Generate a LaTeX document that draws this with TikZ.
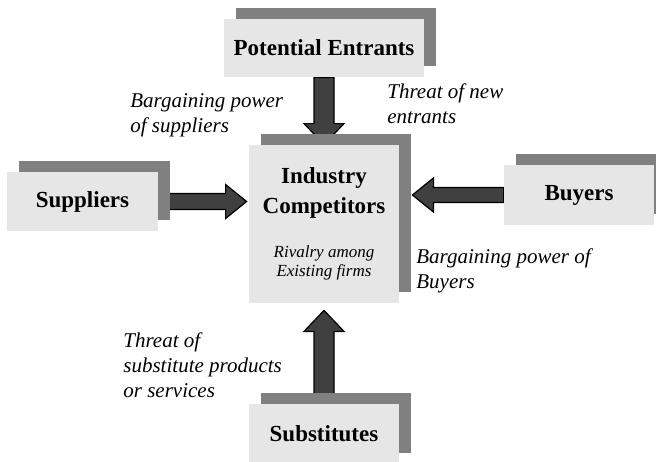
\documentclass[tikz,border=0pt]{standalone}
\usepackage{fontspec}
\setmainfont{Liberation Serif}
\usetikzlibrary{calc,shadows,backgrounds}

\definecolor{boxfill}{RGB}{230,230,230}
\definecolor{boxshade}{RGB}{128,128,128}
\definecolor{arrowfill}{RGB}{64,64,64}

\newcommand{\rivalfont}{\fontsize{8.5}{9.5}\selectfont\mdseries\itshape}
% block arrow: shaft half width, head half width, from, to
\newcommand{\forcearrow}[4]{%
  \coordinate (head) at ($(#4)!10.5pt!(#3)$);
  \draw[fill=arrowfill,line width=0.6pt,line join=miter]
    ($(#3)!#1!90:(#4)$) -- ($(head)!#1!90:(#4)$) -- ($(head)!#2!90:(#4)$) -- (#4)
    -- ($(head)!#2!-90:(#4)$) -- ($(head)!#1!-90:(#4)$) -- ($(#3)!#1!-90:(#4)$) -- cycle;}

\begin{document}
\begin{tikzpicture}[x=0.5pt,y=-0.5pt,
    force/.style={fill=boxfill,inner sep=0pt,align=center,
      font=\fontsize{11.5}{15}\selectfont\bfseries,
      general shadow={fill=boxshade,shadow xshift=6pt,shadow yshift=5.5pt}},
    note/.style={font=\fontsize{10.5}{12.5}\selectfont\itshape,
      align=left,anchor=base west,inner sep=0pt}]
  \useasboundingbox (0,0) rectangle (656,461);

  % the five forces
  \node[force,minimum width=100pt,minimum height=29pt] (pe) at (324,48) {Potential Entrants};
  \node[force,minimum width=75pt,minimum height=79pt] (ic) at (324,224)
    {Industry\\Competitors\\[7pt]\rivalfont Rivalry among\\[-5.5pt]\rivalfont Existing firms};
  \node[force,minimum width=75.5pt,minimum height=29.5pt] (sup) at (82.5,201.5) {Suppliers};
  \node[force,minimum width=75pt,minimum height=30pt] (buy) at (579,195) {Buyers};
  \node[force,minimum width=75pt,minimum height=30pt] (sub) at (324,434) {Substitutes};

  \coordinate (icl) at ($(ic.west |- sup.east)+(-2,0)$);
  \coordinate (icr) at ($(ic.east |- buy.west)+(13,0)$);
  \coordinate (icb) at ($(ic.south)+(0,7)$);

  \begin{scope}[on background layer]
    \forcearrow{5pt}{10pt}{pe.south}{ic.north}
    \forcearrow{4pt}{8.5pt}{sup.east}{icl}
    \forcearrow{3.75pt}{8.5pt}{buy.west}{icr}
    \forcearrow{5pt}{10pt}{sub.north}{icb}
  \end{scope}

  % labels, placed by the baseline of their last line
  \node[note] (bps) at (130,132) {Bargaining power\\of suppliers};
  \node[note] (tne) at (387,123) {Threat of new\\entrants};
  \node[note] (bpb) at (416,288.5) {Bargaining power of\\Buyers};
  \node[note] (tsp) at (123,397) {Threat of\\substitute products\\or services};
\end{tikzpicture}
\end{document}
